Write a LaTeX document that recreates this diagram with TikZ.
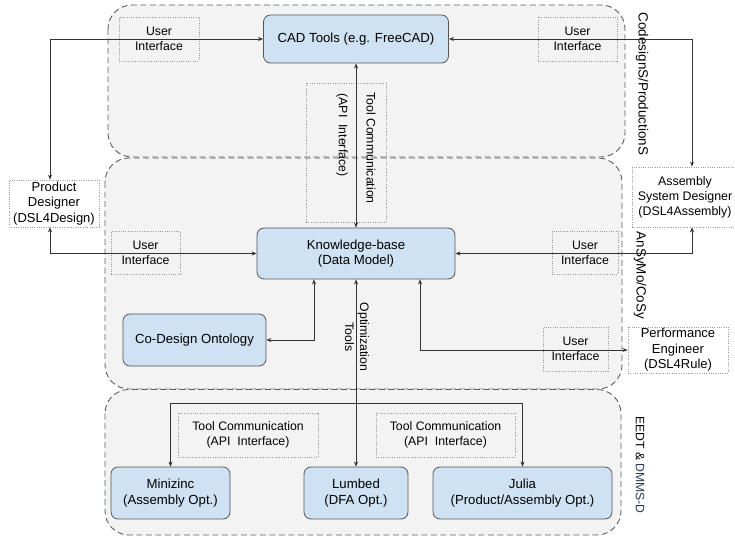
\documentclass[tikz,border=0pt]{standalone}
\usepackage{fontspec}
\setmainfont{Liberation Sans}
\usetikzlibrary{arrows.meta}
\definecolor{regfill}{HTML}{F3F3F3}
\definecolor{regline}{HTML}{5F5F5F}
\definecolor{bluefill}{HTML}{CFE2F3}
\definecolor{boxline}{HTML}{555555}
\definecolor{dotline}{HTML}{9A9A9A}
\definecolor{wire}{HTML}{333333}
\definecolor{navy}{HTML}{2B3A5A}
\begin{document}
\begin{tikzpicture}[x=1pt,y=-1pt,
 region/.style={draw=regline, fill=regfill, line width=0.9pt, dash pattern=on 6pt off 3.5pt, rounded corners=24pt},
 tool/.style={draw=boxline, fill=bluefill, line width=0.8pt, rounded corners=7pt, inner sep=0pt, align=center, font=\fontsize{13.2}{15.8}\selectfont},
 uibox/.style={draw=dotline, dash pattern=on 1pt off 1.3pt, line width=0.7pt, inner sep=0pt, align=center, font=\fontsize{12.3}{14.8}\selectfont},
 actor/.style={uibox, fill=white, font=\fontsize{13}{15.4}\selectfont},
 plain/.style={inner sep=0pt, align=center, font=\fontsize{12.3}{14.8}\selectfont},
 reglabel/.style={rotate=-90, inner sep=0pt, font=\fontsize{13.4}{16}\selectfont},
 wirestyle/.style={draw=wire, line width=0.8pt},
 both/.style={wirestyle, {Stealth[length=5pt,width=4pt]}-{Stealth[length=5pt,width=4pt]}},
 one/.style={wirestyle, -{Stealth[length=5pt,width=4pt]}},
]
\useasboundingbox (0,0) rectangle (735,540);
\fill[white] (0,0) rectangle (735,540);

% regions
\path[region] (108,5) rectangle (625,157);
\path[region] (105,158) rectangle (622,389);
\path[region] (105,389.5) rectangle (621,535);

\node[reglabel] (lab1) at (642,84) {CodesignS/ProductionS};
\node[reglabel] (lab2) at (640,275.5) {AnSyMo/CoSy};
\node[reglabel, font=\fontsize{12.2}{14.6}\selectfont] (lab3) at (640,465) {EEDT \& \textcolor{navy}{DMMS-D}};

% main tool nodes
\node[tool, minimum width=185pt, minimum height=48pt] (CAD) at (356,39) {CAD Tools (e.g. FreeCAD)};
\node[tool, minimum width=198pt, minimum height=51pt] (KB) at (356,253.5) {Knowledge-base\\(Data Model)};
\node[tool, minimum width=143pt, minimum height=52pt] (CDO) at (194.5,340) {Co-Design Ontology};
\node[tool, minimum width=119pt, minimum height=52pt] (Mini) at (170.5,493) {Minizinc\\(Assembly Opt.)};
\node[tool, minimum width=104pt, minimum height=52pt] (Lumbed) at (356,493) {Lumbed\\(DFA Opt.)};
\node[tool, minimum width=179pt, minimum height=52pt] (Julia) at (522.5,493) {Julia\\(Product/Assembly Opt.)};

% interface boxes
\node[uibox, minimum width=80pt, minimum height=44pt] (UI1) at (159,39) {User\\Interface};
\node[uibox, minimum width=79pt, minimum height=44pt] (UI2) at (577.5,39) {User\\Interface};
\node[uibox, minimum width=80pt, minimum height=139pt] (TCV) at (346,152.5) {};
\node[plain, rotate=-90] (TCVa) at (371,148) {Tool Communication};
\node[plain, rotate=-90] (TCVb) at (342,135) {(API\ \ Interface)};
\node[uibox, minimum width=69pt, minimum height=43pt] (UI3) at (145.5,252.5) {User\\Interface};
\node[uibox, minimum width=66pt, minimum height=43pt] (UI4) at (585,252.5) {User\\Interface};
\node[uibox, minimum width=65pt, minimum height=44pt] (UI5) at (575.5,349) {User\\Interface};
\node[uibox, minimum width=140pt, minimum height=44pt] (TC1) at (248,435) {Tool Communication\\(API\ \ Interface)};
\node[uibox, minimum width=139pt, minimum height=44pt] (TC2) at (445.5,435) {Tool Communication\\(API\ \ Interface)};

\node[plain, rotate=-90] (OPT) at (357,337) {Optimization\\Tools};

% actors
\node[actor, minimum width=90pt, minimum height=47pt] (PD) at (54,203.5) {Product\\Designer\\(DSL4Design)};
\node[actor, font=\fontsize{12.4}{15}\selectfont, minimum width=106pt, minimum height=60pt] (ASD) at (685,197) {Assembly\\System Designer\\(DSL4Assembly)};
\node[actor, minimum width=100pt, minimum height=46pt] (PE) at (678,350) {Performance\\Engineer\\(DSL4Rule)};

% connectors
\coordinate (bus) at (356,403);
\draw[both] ([xshift=-4pt]PD.north) |- (CAD.west);
\draw[both] ([xshift=-4pt]PD.south) |- (KB.west);
\draw[both] (CAD.east) -| ([xshift=7pt]ASD.north);
\draw[both] (KB.east) -| ([xshift=7pt]ASD.south);
\draw[both] ([xshift=64pt]KB.south) |- (PE.west);
\draw[both] ([xshift=-42pt]KB.south) |- (CDO.east);
\draw[both] (CAD.south) -- (KB.north);
\draw[both] (KB.south) -- (Lumbed.north);
\draw[one] (bus) -| (Mini.north);
\draw[one] (bus) -| (Julia.north);
\end{tikzpicture}
\end{document}
